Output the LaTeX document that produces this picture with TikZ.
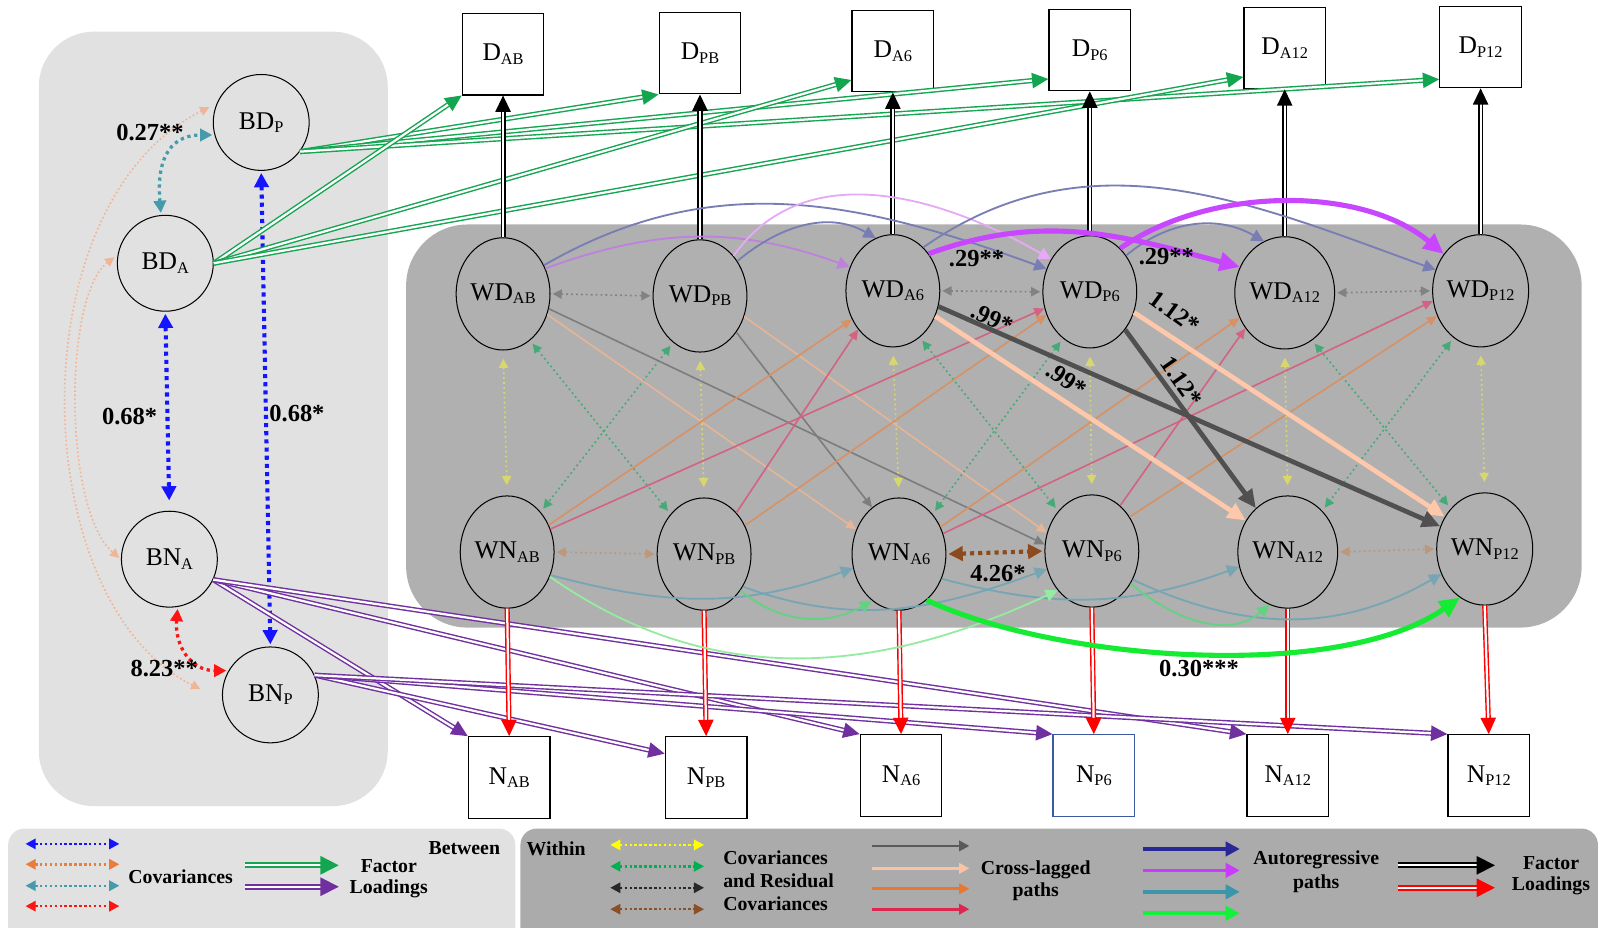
\documentclass[tikz,border=0pt]{standalone}
\usepackage{fontspec}
\setmainfont{Liberation Serif}
\usetikzlibrary{arrows.meta,shapes.geometric,calc}
\newcommand\lsub[1]{\raisebox{-1.7pt}{\fontsize{8}{9}\selectfont #1}}
\definecolor{bgL}{RGB}{225,225,225}
\definecolor{bgW}{RGB}{176,176,176}
\definecolor{legW}{RGB}{171,171,171}
\definecolor{fgreen}{RGB}{20,165,80}
\definecolor{fpurple}{RGB}{112,48,160}
\definecolor{cblue}{RGB}{20,20,255}
\definecolor{cteal}{RGB}{70,155,170}
\definecolor{cpeach}{RGB}{240,180,150}
\definecolor{cred}{RGB}{255,20,20}
\definecolor{corange}{RGB}{235,125,60}
\definecolor{wgray}{RGB}{130,130,130}
\definecolor{wtan}{RGB}{190,150,120}
\definecolor{wbrown}{RGB}{140,75,30}
\definecolor{wyellow}{RGB}{215,215,110}
\definecolor{wgreen}{RGB}{70,170,120}
\definecolor{lyellow}{RGB}{255,255,0}
\definecolor{lgreen}{RGB}{0,176,80}
\definecolor{lblack}{RGB}{40,40,40}
\definecolor{lbrown}{RGB}{140,80,40}
\definecolor{xgray}{RGB}{125,125,125}
\definecolor{xgrayK}{RGB}{80,80,80}
\definecolor{xpeach}{RGB}{230,180,150}
\definecolor{xpeachK}{RGB}{255,200,170}
\definecolor{xorange}{RGB}{215,145,100}
\definecolor{xcrim}{RGB}{210,100,130}
\definecolor{lgray}{RGB}{90,90,90}
\definecolor{lpeach}{RGB}{250,195,165}
\definecolor{lorange}{RGB}{230,120,50}
\definecolor{lcrim}{RGB}{220,40,80}
\definecolor{aslate}{RGB}{120,125,180}
\definecolor{amag}{RGB}{200,70,255}
\definecolor{aviol}{RGB}{190,130,220}
\definecolor{apviol}{RGB}{230,170,245}
\definecolor{lnavy}{RGB}{40,40,150}
\definecolor{lmag}{RGB}{200,60,255}
\definecolor{lteal}{RGB}{60,150,170}
\definecolor{lgrn}{RGB}{20,240,60}
\definecolor{ateal}{RGB}{120,165,180}
\definecolor{agreen}{RGB}{100,210,130}
\definecolor{apgreen}{RGB}{150,235,160}
\definecolor{abgreen}{RGB}{20,235,50}
\definecolor{nblue}{RGB}{60,90,160}
\begin{document}
\begin{tikzpicture}[x=0.5pt,y=-0.5pt,
  lat/.style={circle,draw=black,line width=0.5pt,minimum size=47pt,inner sep=0pt,font=\fontsize{12.5}{13}\selectfont},
  wlat/.style={ellipse,draw=black,line width=0.5pt,minimum width=46pt,minimum height=55pt,inner sep=0pt,font=\fontsize{12.5}{13}\selectfont},
  obs/.style={rectangle,draw=black,line width=0.6pt,fill=white,minimum width=40pt,minimum height=40pt,inner sep=0pt,font=\fontsize{12.5}{13}\selectfont},
  lbl/.style={font=\fontsize{12}{13}\selectfont\bfseries,inner sep=0pt},
  leg/.style={font=\fontsize{9.7}{11}\selectfont\bfseries,inner sep=0pt},
  fload/.style={double=white,double distance=1.1pt,line width=0.7pt,-{Triangle[length=8pt,width=7.5pt]}},
  covB/.style={line width=2pt,dash pattern=on 2pt off 2pt,{Triangle[length=7pt,width=7pt]}-{Triangle[length=7pt,width=7pt]}},
  covM/.style={line width=1.6pt,dash pattern=on 1.6pt off 1.8pt,{Triangle[length=6pt,width=6pt]}-{Triangle[length=6pt,width=6pt]}},
  covT/.style={line width=0.8pt,dash pattern=on 0.8pt off 1.2pt,{Triangle[length=4.5pt,width=4.5pt]}-{Triangle[length=4.5pt,width=4.5pt]}},
  wcov/.style={line width=0.8pt,dash pattern=on 0.9pt off 1.5pt,{Triangle[length=4.5pt,width=4.5pt]}-{Triangle[length=4.5pt,width=4.5pt]},shorten <=1pt,shorten >=1pt},
  wcovK/.style={line width=2pt,dash pattern=on 2pt off 2pt,{Triangle[length=7pt,width=7pt]}-{Triangle[length=7pt,width=7pt]},shorten <=1pt,shorten >=1pt},
  clT/.style={line width=0.8pt,-{Triangle[length=5pt,width=4.5pt]}},
  clK/.style={line width=2.3pt,-{Triangle[length=9pt,width=8pt]}},
  arT/.style={line width=0.9pt,-{Triangle[length=6pt,width=6pt]}},
  arK/.style={line width=2.5pt,-{Triangle[length=10pt,width=9pt]}},
  lcov/.style={line width=1.2pt,dash pattern=on 1.2pt off 1.2pt,{Triangle[length=5pt,width=5pt]}-{Triangle[length=5pt,width=5pt]}},
  lcl/.style={line width=1.3pt,-{Triangle[length=5pt,width=5pt]}},
  lar/.style={line width=1.8pt,-{Triangle[length=7pt,width=7pt]}},
  lfl/.style={double=white,double distance=1.1pt,line width=0.9pt,-{Triangle[length=9pt,width=9pt]}}
]
\useasboundingbox (0,0) rectangle (1568,909.4);
% backgrounds
\fill[bgL, rounded corners=27pt] (38,31) rectangle (380,790);
\fill[bgW, rounded corners=30pt] (398,220) rectangle (1550,615);
\fill[bgL, rounded corners=8pt] (8,812) rectangle (505,935);
\fill[legW, rounded corners=8pt] (510,812) rectangle (1566,935);

% between latent
\node[lat] (BDP) at (256,120) {BD\lsub{P}};
\node[lat] (BDA) at (162,258) {BD\lsub{A}};
\node[lat] (BNA) at (166,548) {BN\lsub{A}};
\node[lat] (BNP) at (265,681) {BN\lsub{P}};
% indicators
\node[obs] (DAB) at (493,53) {D\lsub{AB}};
\node[obs] (DPB) at (686,52) {D\lsub{PB}};
\node[obs] (DA6) at (875,50) {D\lsub{A6}};
\node[obs] (DP6) at (1068,49) {D\lsub{P6}};
\node[obs] (DA12) at (1259,47) {D\lsub{A12}};
\node[obs] (DP12) at (1451,46) {D\lsub{P12}};
\node[obs] (NAB) at (499,762) {N\lsub{AB}};
\node[obs] (NPB) at (692,762) {N\lsub{PB}};
\node[obs] (NA6) at (883,760) {N\lsub{A6}};
\node[obs,draw=nblue] (NP6) at (1072,760) {N\lsub{P6}};
\node[obs] (NA12) at (1262,760) {N\lsub{A12}};
\node[obs] (NP12) at (1459,760) {N\lsub{P12}};
% within latent
\node[wlat] (WDAB) at (493,288) {WD\lsub{AB}};
\node[wlat] (WDPB) at (686,290) {WD\lsub{PB}};
\node[wlat] (WDA6) at (875,285) {WD\lsub{A6}};
\node[wlat] (WDP6) at (1068,286) {WD\lsub{P6}};
\node[wlat] (WDA12) at (1259,287) {WD\lsub{A12}};
\node[wlat] (WDP12) at (1451,285) {WD\lsub{P12}};
\node[wlat] (WNAB) at (497,541) {WN\lsub{AB}};
\node[wlat] (WNPB) at (690,543) {WN\lsub{PB}};
\node[wlat] (WNA6) at (881,543) {WN\lsub{A6}};
\node[wlat] (WNP6) at (1070,540) {WN\lsub{P6}};
\node[wlat] (WNA12) at (1262,541) {WN\lsub{A12}};
\node[wlat] (WNP12) at (1455,538) {WN\lsub{P12}};

% between covariances
\draw[covT,cpeach,shorten <=4pt,shorten >=12pt] (BDP.157) .. controls (15,200) and (25,590) .. (BNP.186);
\draw[covT,cpeach,shorten <=2pt,shorten >=1pt] (BDA.170) .. controls (62,290) and (62,500) .. (BNA.180);
\draw[covB,cblue,shorten <=1pt,shorten >=5pt] (BDA.south) -- (BNA.north);
\draw[covB,cblue,shorten <=1pt,shorten >=1pt] (BDP.south) -- (BNP.north);
\draw[covM,cteal,shorten <=1pt,shorten >=1pt] (BDA.95) to[out=95,in=180,looseness=1.3] (BDP.195);
\draw[covM,cred,shorten <=1pt,shorten >=1pt] (BNA.-80) to[out=-95,in=180,looseness=1.2] (BNP.150);
\node[lbl] (l027) at (147,130) {0.27**};
\node[lbl] (l068a) at (127,408) {0.68*};
\node[lbl] (l068b) at (291,405) {0.68*};
\node[lbl] (l823) at (161,655) {8.23**};

% between factor loadings
\draw[fload,fgreen] (BDP.-37) -- (DPB.south west);
\draw[fload,fgreen] (BDP.-37) -- (DP6.215);
\draw[fload,fgreen] (BDP.-37) -- (DP12.218);
\draw[fload,fgreen] (BDA.0) -- (DAB.south west);
\draw[fload,fgreen] (BDA.0) -- (DA6.215);
\draw[fload,fgreen] (BDA.0) -- (DA12.215);
\draw[fload,fpurple] (BNA.-25) -- (NAB.north west);
\draw[fload,fpurple] (BNA.-25) -- (NA6.north west);
\draw[fload,fpurple] (BNA.-25) -- (NA12.north west);
\draw[fload,fpurple] (BNP.24) -- (NPB.150);
\draw[fload,fpurple] (BNP.24) -- (NP6.north west);
\draw[fload,fpurple] (BNP.24) -- (NP12.north west);

% within factor loadings
\foreach \a/\b in {WDAB/DAB,WDPB/DPB,WDA6/DA6,WDP6/DP6,WDA12/DA12,WDP12/DP12}
  \draw[fload,black] (\a.north) -- (\b.south);
\foreach \a/\b in {WNAB/NAB,WNPB/NPB,WNA6/NA6,WNP6/NP6,WNA12/NA12,WNP12/NP12}
  \draw[fload,red] (\a.south) -- (\b.north);

% within covariances
\draw[wcov,wgray] (WDAB.east) -- (WDPB.west);
\draw[wcov,wgray] (WDA6.east) -- (WDP6.west);
\draw[wcov,wgray] (WDA12.east) -- (WDP12.west);
\draw[wcov,wtan] (WNAB.east) -- (WNPB.west);
\draw[wcov,wtan] (WNA12.east) -- (WNP12.west);
\foreach \a/\b in {WDAB/WNAB,WDPB/WNPB,WDA6/WNA6,WDP6/WNP6,WDA12/WNA12,WDP12/WNP12}
  \draw[wcov,wyellow,shorten <=4pt,shorten >=5pt] (\a.south) -- (\b.north);
\foreach \a/\b in {WDAB/WNPB,WDA6/WNP6,WDA12/WNP12}
  \draw[wcov,wgreen,shorten <=2pt,shorten >=2pt] (\a.-60) -- (\b.130);
\foreach \a/\b in {WDPB/WNAB,WDP6/WNA6,WDP12/WNA12}
  \draw[wcov,wgreen,shorten <=2pt,shorten >=2pt] (\a.-120) -- (\b.50);

% cross-lagged thin
\draw[clT,xpeach] (WDAB.-25) -- (WNA6.150);
\draw[clT,xgray] (WDAB.-18) -- (WNP6.172);
\draw[clT,xgray] (WDPB.-45) -- (WNA6.120);
\draw[clT,xpeach] (WDPB.-25) -- (WNP6.158);
\draw[clT,xorange] (WNAB.33) -- (WDA6.215);
\draw[clT,xcrim] (WNAB.28) -- (WDP6.200);
\draw[clT,xcrim] (WNPB.52) -- (WDA6.228);
\draw[clT,xorange] (WNPB.35) -- (WDP6.208);
\draw[clT,xorange] (WNA6.33) -- (WDA12.209);
\draw[clT,xcrim] (WNA6.25) -- (WDP12.192);
\draw[clT,xcrim] (WNP6.58) -- (WDA12.222);
\draw[clT,xorange] (WNP6.42) -- (WDP12.210);

% autoregressive top
\draw[arT,aviol] (WDAB.31) to[out=20,in=160] (WDA6.151);
\draw[arT,aslate] (WDPB.43) to[out=40,in=150] (WDA6.108);
\draw[arT,aslate] (WDAB.35) to[out=30,in=160] (WDP6.152);
\draw[arT,apviol] (WDPB.50) to[out=55,in=150] (WDP6.140);
\draw[arT,aslate] (WDP6.45) to[out=40,in=150] (WDA12.112);
\draw[arT,aslate] (WDA6.55) to[out=35,in=160] (WDP12.155);
% autoregressive bottom
\draw[arT,ateal] (WNAB.-28) to[out=-15,in=200] (WNA6.197);
\draw[arT,ateal] (WNPB.-40) to[out=-20,in=200] (WNP6.202);
\draw[arT,ateal] (WNA6.-30) to[out=-15,in=200] (WNA12.197);
\draw[arT,ateal] (WNP6.-35) to[out=-25,in=210] (WNP12.210);
\draw[arT,apgreen] (WNAB.-30) to[out=-35,in=205] (WNP6.229);
\draw[arT,agreen] (WNPB.-45) to[out=-40,in=210] (WNA6.240);
\draw[arT,agreen] (WNP6.-40) to[out=-40,in=220] (WNA12.251);

% highlighted paths
\draw[clK,xpeachK] (WDA6.-31) -- (WNA12.143);
\draw[clK,xpeachK] (WDP6.-25) -- (WNP12.141);
\draw[clK,xgrayK] (WDA6.-19) -- (WNP12.153);
\draw[clK,xgrayK] (WDP6.-47) -- (WNA12.126);
\draw[arK,amag] (WDA6.46) to[out=20,in=165] (WDA12.150);
\draw[arK,amag] (WDP6.55) to[out=35,in=140,looseness=0.85] (WDP12.135);
\draw[arK,abgreen] (WNA6.-59) to[out=-25,in=215,looseness=0.7] (WNP12.243);
\draw[wcovK,wbrown] (WNA6.east) -- (WNP6.west);

\node[lbl] (l29a) at (957,253) {.29**};
\node[lbl] (l29b) at (1143,251) {.29**};
\node[lbl,rotate=-24] (l99a) at (972,312) {.99*};
\node[lbl,rotate=-34] (l99b) at (1045,372) {.99*};
\node[lbl,rotate=-36] (l112a) at (1151,306) {1.12*};
\node[lbl,rotate=-55] (l112b) at (1158,374) {1.12*};
\node[lbl] (l426) at (978,562) {4.26*};
\node[lbl] (l030) at (1175,655) {0.30***};

% legend left
\foreach \yy/\cc [count=\i] in {827/cblue,847/corange,868/cteal,888/cred} {
  \coordinate (lcA\i) at (25,\yy); \coordinate (lcB\i) at (117,\yy);
  \draw[lcov,\cc] (lcA\i) -- (lcB\i);}
\node[leg] (tCov1) at (177,859) {Covariances};
\coordinate (lfA1) at (240,848); \coordinate (lfB1) at (332,848);
\draw[lfl,fgreen] (lfA1) -- (lfB1);
\coordinate (lfA2) at (240,869); \coordinate (lfB2) at (332,869);
\draw[lfl,fpurple] (lfA2) -- (lfB2);
\node[leg] (tFac1) at (381,849) {Factor};
\node[leg] (tLoad1) at (381,871) {Loadings};
\node[leg] (tBet) at (455,831) {Between};

% legend right
\node[leg] (tWith) at (545,832) {Within};
\foreach \yy/\cc [count=\i] in {828/lyellow,849/lgreen,870/lblack,891/lbrown} {
  \coordinate (wcA\i) at (598,\yy); \coordinate (wcB\i) at (690,\yy);
  \draw[lcov,\cc] (wcA\i) -- (wcB\i);}
\node[leg] (tCov2) at (760,841) {Covariances};
\node[leg] (tRes) at (763,863) {and Residual};
\node[leg] (tCov3) at (760,886) {Covariances};
\foreach \yy/\cc [count=\i] in {829/lgray,851/lpeach,871/lorange,891/lcrim} {
  \coordinate (xlA\i) at (855,\yy); \coordinate (xlB\i) at (950,\yy);
  \draw[lcl,\cc] (xlA\i) -- (xlB\i);}
\node[leg] (tCL1) at (1015,852) {Cross-lagged};
\node[leg] (tCL2) at (1015,874) {paths};
\foreach \yy/\cc [count=\i] in {832/lnavy,853/lmag,874/lteal,895/lgrn} {
  \coordinate (arA\i) at (1120,\yy); \coordinate (arB\i) at (1215,\yy);
  \draw[lar,\cc] (arA\i) -- (arB\i);}
\node[leg] (tAR1) at (1290,843) {Autoregressive};
\node[leg] (tAR2) at (1290,866) {paths};
\coordinate (lkA) at (1370,848); \coordinate (lkB) at (1465,848);
\draw[lfl,black] (lkA) -- (lkB);
\coordinate (lrA) at (1370,870); \coordinate (lrB) at (1465,870);
\draw[lfl,red] (lrA) -- (lrB);
\node[leg] (tFac2) at (1520,846) {Factor};
\node[leg] (tLoad2) at (1520,868) {Loadings};
\end{tikzpicture}
\end{document}
